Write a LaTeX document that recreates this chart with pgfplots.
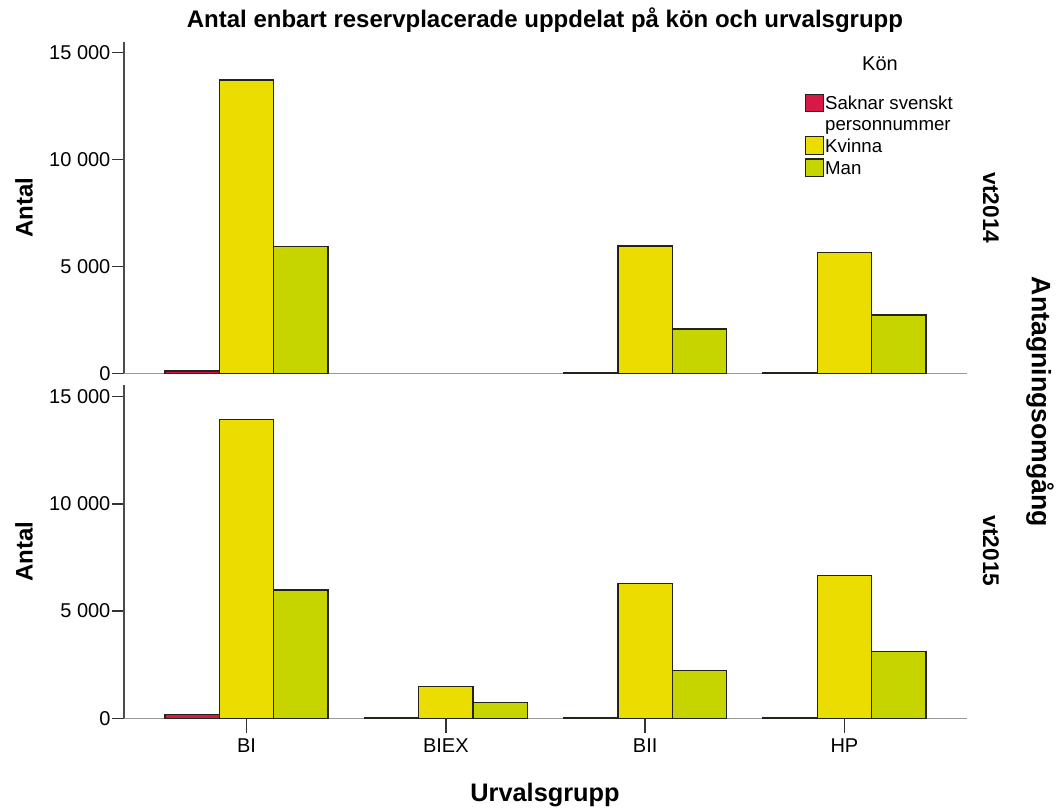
\documentclass[border=0pt]{standalone}
\usepackage{fontspec}
\setmainfont{Liberation Sans}
\usepackage{pgfplots}
\pgfplotsset{compat=1.18}
\definecolor{kred}{RGB}{214,25,70}
\definecolor{kyellow}{RGB}{236,221,0}
\definecolor{kgreen}{RGB}{198,212,0}
\definecolor{bord}{RGB}{35,35,25}
\pgfplotsset{
  panel/.style={
    scale only axis, width=632.25pt,
    xmin=-0.615, xmax=3.615, ymin=0,
    axis x line*=bottom, axis y line*=left,
    x axis line style={-, draw=black!40, line width=1.1pt},
    y axis line style={-, draw=black!70, line width=1pt},
    ybar=0pt,
    ytick={0,5000,10000,15000},
    yticklabels={0,5 000,10 000,15 000},
    scaled y ticks=false,
    tick align=outside,
    major tick length=9pt,
    ytick style={draw=black!80, line width=1pt},
    xtick style={draw=black!80, line width=1pt, /pgfplots/major tick length=11pt},
    tick label style={font=\fontsize{15}{18}\selectfont},
    yticklabel style={inner sep=1pt},
    every axis y label/.style={at={(axis description cs:-0.1186,0.5)}, rotate=90, anchor=center, font=\bfseries\fontsize{18}{20}\selectfont},
    ylabel={Antal},
    legend image code/.code={\draw[##1, line width=0.8pt] (0pt,-4.5pt) rectangle (13pt,8.5pt);},
  },
  barbase/.style={draw=bord, line width=1pt, bar width=40.8pt},
}
\begin{document}
\begin{tikzpicture}
\useasboundingbox (0,0) rectangle (793.5pt,607.5pt);
% top panel vt2014
\begin{axis}[panel, at={(93pt,327.375pt)}, anchor=south west,
  height=248.6pt, ymax=15491, xtick=\empty,
  legend cell align=left,
  legend style={at={(0.808,0.845)}, anchor=north west, draw=none, fill=none,
    inner sep=0pt, row sep=0pt, font=\fontsize{14}{16}\selectfont,
    nodes={inner sep=1pt, text height=10pt, text depth=3.4pt},
    /tikz/every even column/.append style={column sep=3pt}},
]
\addplot[barbase, fill=kred, bar shift=-40.8pt] coordinates {(0,110) (2,40) (3,40)};
\addlegendentry{Saknar svenskt}
\addlegendimage{empty legend}
\addlegendentry{personnummer}
\addplot[barbase, fill=kyellow, bar shift=0pt] coordinates {(0,13715) (2,5958) (3,5663)};
\addlegendentry{Kvinna}
\addplot[barbase, fill=kgreen, bar shift=40.8pt] coordinates {(0,5925) (2,2080) (3,2734)};
\addlegendentry{Man}
\end{axis}
% bottom panel vt2015
\begin{axis}[panel, at={(93pt,68.78pt)}, anchor=south west,
  height=250pt, ymax=15546,
  xtick={0,1,2,3}, xticklabels={BI,BIEX,BII,HP},
  xticklabel style={inner sep=0pt, yshift=-6pt},
]
\addplot[barbase, fill=kred, bar shift=-40.8pt] coordinates {(0,180) (1,15) (2,40) (3,30)};
\addplot[barbase, fill=kyellow, bar shift=0pt] coordinates {(0,13946) (1,1474) (2,6297) (3,6670)};
\addplot[barbase, fill=kgreen, bar shift=40.8pt] coordinates {(0,5984) (1,728) (2,2220) (3,3106)};
\end{axis}
% texts
\node[font=\bfseries\fontsize{18}{20}\selectfont] at (408.75pt,592.5pt) {Antal enbart reservplacerade uppdelat på kön och urvalsgrupp};
\node[font=\bfseries\fontsize{19}{22}\selectfont] at (408.75pt,11.5pt) {Urvalsgrupp};
\node[font=\bfseries\fontsize{17}{20}\selectfont, rotate=-90] at (743.25pt,451.5pt) {vt2014};
\node[font=\bfseries\fontsize{17}{20}\selectfont, rotate=-90] at (743.25pt,194.25pt) {vt2015};
\node[font=\bfseries\fontsize{20}{22}\selectfont, rotate=-90] at (780pt,306pt) {Antagningsomgång};
\node[font=\fontsize{15}{18}\selectfont] at (660pt,559.5pt) {Kön};
\end{tikzpicture}
\end{document}
